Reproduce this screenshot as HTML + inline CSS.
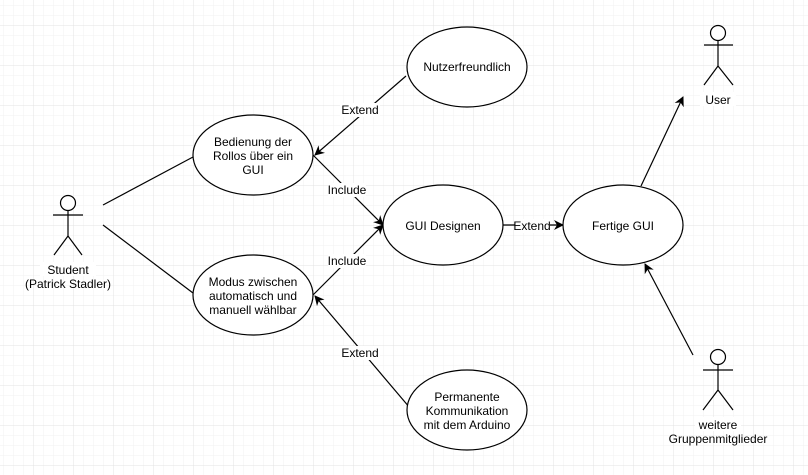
<!DOCTYPE html>
<html><head><meta charset="utf-8"><style>
html,body{margin:0;padding:0;background:#fff}
svg{display:block}
text{font-family:"Liberation Sans",Arial,sans-serif;font-size:12px;fill:#000}
</style></head><body>
<svg width="808" height="475" xmlns="http://www.w3.org/2000/svg">
<defs>
<pattern id="minor" width="10" height="10" patternUnits="userSpaceOnUse" x="3.5" y="5.5">
<path d="M0 0V10M0 0H10" fill="none" stroke="#f2f2f2" stroke-width="1"/>
</pattern>
<pattern id="major" width="40" height="40" patternUnits="userSpaceOnUse" x="33.5" y="25.5">
<path d="M0 0V40M0 0H40" fill="none" stroke="#e3e3e3" stroke-width="1"/>
</pattern>
<marker id="ar" markerWidth="10" markerHeight="10" refX="9" refY="5" orient="auto" markerUnits="userSpaceOnUse">
<path d="M0,0 L10,5 L0,10 L3,5 z" fill="#000"/>
</marker>
</defs>
<rect width="808" height="475" fill="url(#minor)"/>
<rect width="808" height="475" fill="url(#major)"/>
<g stroke="#000" stroke-width="1.2" fill="none">
<line x1="103" y1="205" x2="193" y2="157"/>
<line x1="103" y1="225" x2="193" y2="293"/>
<line x1="406" y1="76" x2="315" y2="155" marker-end="url(#ar)"/>
<line x1="313" y1="155" x2="383" y2="225" marker-end="url(#ar)"/>
<line x1="313" y1="295" x2="383" y2="225" marker-end="url(#ar)"/>
<line x1="410" y1="408" x2="315" y2="296" marker-end="url(#ar)"/>
<line x1="503" y1="225" x2="563" y2="225" marker-end="url(#ar)"/>
<line x1="641" y1="186" x2="683" y2="97" marker-end="url(#ar)"/>
<line x1="693" y1="355" x2="645" y2="264" marker-end="url(#ar)"/>
</g>
<g stroke="#000" stroke-width="1.2" fill="#fff">
<ellipse cx="253" cy="155" rx="60" ry="40"/>
<ellipse cx="253" cy="295" rx="60" ry="40"/>
<ellipse cx="467" cy="67" rx="60" ry="40"/>
<ellipse cx="443" cy="225" rx="60" ry="40"/>
<ellipse cx="623" cy="225" rx="60" ry="40"/>
<ellipse cx="467" cy="410" rx="60" ry="40"/>
</g>
<g stroke="#000" stroke-width="1.2" fill="#fff">
<circle cx="68" cy="203" r="7.5"/>
<path d="M68 211V236M53 215H83M68 236L54 255M68 236L82 255" fill="none"/>
<circle cx="718" cy="33" r="7.5"/>
<path d="M718 41V66M704 45H733M718 66L704 85M718 66L733 85" fill="none"/>
<circle cx="718" cy="357" r="7.5"/>
<path d="M718 365V390M703 370H733M718 390L703 410M718 390L733 410" fill="none"/>
</g>
<g fill="#fff">
<rect x="340" y="103" width="40" height="14"/>
<rect x="328" y="183" width="38" height="14"/>
<rect x="328" y="254" width="38" height="14"/>
<rect x="340" y="346" width="40" height="14"/>
<rect x="515" y="219" width="35" height="14"/>
<rect x="40" y="262" width="56" height="14"/>
<rect x="700" y="92" width="36" height="14"/>
<rect x="695" y="417" width="46" height="14"/>
</g>
<g text-anchor="middle">
<text x="360" y="114">Extend</text>
<text x="347" y="194">Include</text>
<text x="347" y="265">Include</text>
<text x="360" y="357">Extend</text>
<text x="532" y="230">Extend</text>
<text x="253" y="146">Bedienung der</text>
<text x="253" y="160">Rollos über ein</text>
<text x="253" y="174">GUI</text>
<text x="253" y="286">Modus zwischen</text>
<text x="253" y="300">automatisch und</text>
<text x="253" y="314">manuell wählbar</text>
<text x="467" y="71">Nutzerfreundlich</text>
<text x="443" y="230">GUI Designen</text>
<text x="623" y="230">Fertige GUI</text>
<text x="467" y="401">Permanente</text>
<text x="467" y="415">Kommunikation</text>
<text x="467" y="429">mit dem Arduino</text>
<text x="68" y="274">Student</text>
<text x="68" y="288">(Patrick Stadler)</text>
<text x="718" y="104">User</text>
<text x="718" y="429">weitere</text>
<text x="718" y="443">Gruppenmitglieder</text>
</g>
</svg>
</body></html>
